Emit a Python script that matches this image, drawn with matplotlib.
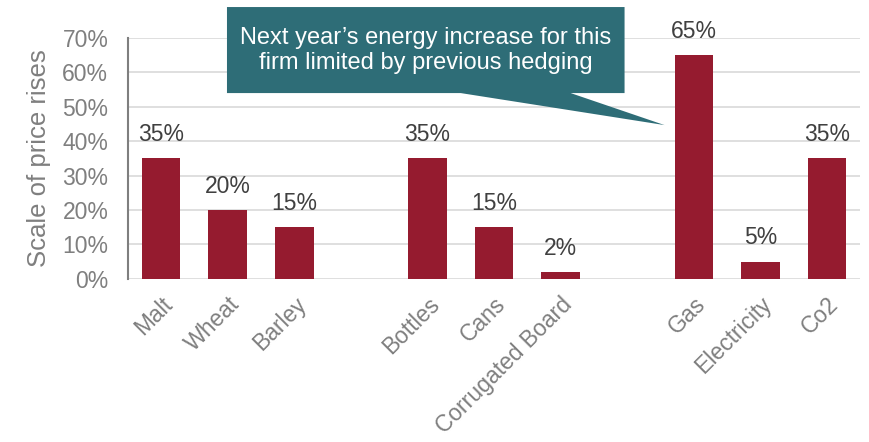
import matplotlib.pyplot as plt
from matplotlib.patches import Polygon
from matplotlib.ticker import PercentFormatter

plt.rcParams['font.family'] = ['Liberation Sans', 'DejaVu Sans']

# three groups of inputs, separated by an empty slot on the axis
groups = [
    ["Malt", "Wheat", "Barley"],
    ["Bottles", "Cans", "Corrugated Board"],
    ["Gas", "Electricity", "Co2"],
]
values = [
    [35, 20, 15],
    [35, 15, 2],
    [65, 5, 35],
]
callout_text = "Next year\u2019s energy increase for this\nfirm limited by previous hedging"

bar_color = "#951B2F"
grey = "#7F7F7F"

fig = plt.figure(figsize=(8.69, 4.42), dpi=100)
ax = fig.add_axes([0.147, 0.369, 0.843, 0.545])

positions, labels, heights = [], [], []
pos = 0
for names, vals in zip(groups, values):
    for n, v in zip(names, vals):
        positions.append(pos)
        labels.append(n)
        heights.append(v)
        pos += 1
    pos += 1  # gap between groups

bars = ax.bar(positions, heights, width=0.58, color=bar_color, zorder=3)
for b, h in zip(bars, heights):
    ax.annotate(f"{h}%", (b.get_x() + b.get_width() / 2, h), xytext=(0, 12.5),
                textcoords="offset points", ha="center", va="baseline",
                fontsize=16.5, color="#404040")

ax.set_xlim(-0.5, positions[-1] + 0.5)
ax.set_ylim(0, 70)
ax.set_yticks(range(0, 71, 10))
ax.yaxis.set_major_formatter(PercentFormatter(decimals=0))
ax.grid(axis="y", color="#D9D9D9", linewidth=1.2, zorder=0)
ax.set_axisbelow(True)

ax.set_xticks(positions)
ax.set_xticklabels(labels, rotation=45, ha="right", rotation_mode="anchor",
                   fontsize=16.5, color=grey)
ax.tick_params(axis="x", length=0, pad=10)
ax.tick_params(axis="y", length=0, pad=14, labelsize=16.5, labelcolor=grey)

for s in ["top", "right", "bottom"]:
    ax.spines[s].set_visible(False)
ax.spines["left"].set_color(grey)
ax.spines["left"].set_linewidth(1.5)

ax.set_ylabel("Scale of price rises", fontsize=18.5, color=grey, labelpad=8)

# callout box with pointer towards the Gas bar
box_color = "#2E6D77"
box = Polygon([(0.99, 79), (6.96, 79), (6.96, 54), (6.15, 54), (7.56, 44.7),
               (4.5, 54), (0.99, 54)],
              closed=True, facecolor=box_color, edgecolor="none",
              transform=ax.transData, clip_on=False, zorder=5)
ax.add_patch(box)
ax.text(3.97, 66.3, callout_text, ha="center", va="center", color="white",
        fontsize=17, linespacing=1.2, zorder=6, clip_on=False)

fig.savefig("out.png", dpi=100)
